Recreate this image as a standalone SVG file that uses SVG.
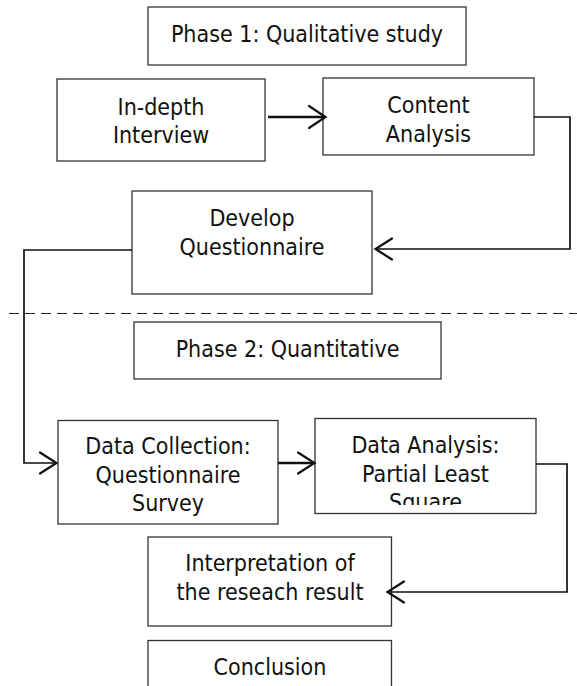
<svg xmlns="http://www.w3.org/2000/svg" width="577" height="686" viewBox="0 0 577 686">
  <style>
    .box { fill: #ffffff; stroke: #333333; stroke-width: 1.3; }
    .lbl { font-family: "DejaVu Sans Condensed", "DejaVu Sans", Verdana, sans-serif; font-stretch: condensed; font-size: 23px; fill: #111111; text-anchor: middle; }
    .wire { fill: none; stroke: #111111; stroke-width: 1.7; }
    .shaft { fill: none; stroke: #111111; stroke-width: 2.6; }
    .head { fill: none; stroke: #111111; stroke-width: 2.2; stroke-linecap: round; stroke-linejoin: miter; }
    .divider { stroke: #222222; stroke-width: 1.2; stroke-dasharray: 10 6; }
  </style>
  <defs>
    <clipPath id="clip-analysis">
      <rect x="315" y="418" width="222" height="87"/>
    </clipPath>
  </defs>
  <rect width="577" height="686" fill="#ffffff"/>

  <!-- phase separator -->
  <line class="divider" x1="9" y1="313.5" x2="577" y2="313.5"/>

  <g id="phase1">
    <rect class="box" x="148" y="7" width="318" height="58"/>
    <text class="lbl" x="307" y="42">Phase 1: Qualitative study</text>
  </g>

  <g id="interview">
    <rect class="box" x="57" y="79" width="208" height="82"/>
    <text class="lbl" x="161" y="114.5">In-depth</text>
    <text class="lbl" x="161" y="143">Interview</text>
  </g>

  <g id="content-analysis">
    <rect class="box" x="323" y="78" width="211" height="77"/>
    <text class="lbl" x="428.5" y="113">Content</text>
    <text class="lbl" x="428.5" y="142">Analysis</text>
  </g>

  <g id="questionnaire">
    <rect class="box" x="132" y="191" width="240" height="103"/>
    <text class="lbl" x="252" y="226">Develop</text>
    <text class="lbl" x="252" y="254.5">Questionnaire</text>
  </g>

  <g id="phase2">
    <rect class="box" x="134" y="322" width="307" height="57"/>
    <text class="lbl" x="287.5" y="357">Phase 2: Quantitative</text>
  </g>

  <g id="data-collection">
    <rect class="box" x="58" y="420.5" width="220" height="103.5"/>
    <text class="lbl" x="168" y="454">Data Collection:</text>
    <text class="lbl" x="168" y="482.5">Questionnaire</text>
    <text class="lbl" x="168" y="511">Survey</text>
  </g>

  <g id="data-analysis">
    <rect class="box" x="315" y="418.5" width="221" height="95"/>
    <g clip-path="url(#clip-analysis)">
      <text class="lbl" x="425.5" y="453">Data Analysis:</text>
      <text class="lbl" x="425.5" y="481.5">Partial Least</text>
      <text class="lbl" x="425.5" y="510">Square</text>
    </g>
  </g>

  <g id="interpretation">
    <rect class="box" x="148" y="537" width="243.5" height="89"/>
    <text class="lbl" x="270" y="571">Interpretation of</text>
    <text class="lbl" x="270" y="599.5">the reseach result</text>
  </g>

  <g id="conclusion">
    <rect class="box" x="148" y="640.5" width="243.5" height="60"/>
    <text class="lbl" x="270" y="674.5">Conclusion</text>
  </g>

  <g id="connectors">
    <!-- interview to content analysis -->
    <line class="shaft" x1="268" y1="117" x2="325" y2="117"/>
    <polyline class="head" points="309,106 325.5,117 309,128"/>

    <!-- content analysis round to questionnaire -->
    <polyline class="wire" points="534,117 570,117 570,249 376,249"/>
    <polyline class="head" points="392,238.5 375.5,249 392,259.5"/>

    <!-- questionnaire down to data collection -->
    <polyline class="wire" points="132,250 24,250 24,463 56,463"/>
    <polyline class="head" points="40,452.5 56.5,463 40,473.5"/>

    <!-- data collection to data analysis -->
    <line class="shaft" x1="278" y1="463" x2="314" y2="463"/>
    <polyline class="head" points="298,452.5 314.5,463 298,473.5"/>

    <!-- data analysis round to interpretation -->
    <polyline class="wire" points="536,464 567,464 567,592 388,592"/>
    <polyline class="head" points="404,581.5 387.5,592 404,602.5"/>
  </g>
</svg>
